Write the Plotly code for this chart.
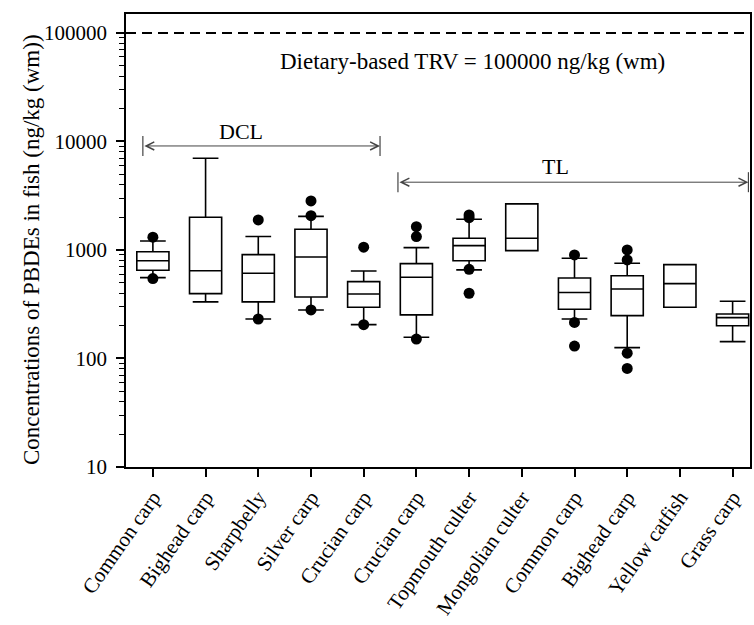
import math
import plotly.graph_objects as go

categories = ["Common carp", "Bighead carp", "Sharpbelly", "Silver carp", "Crucian carp",
              "Crucian carp", "Topmouth culter", "Mongolian culter", "Common carp",
              "Bighead carp", "Yellow catfish", "Grass carp"]
q1 = [650, 396, 332, 369, 296, 252, 796, 986, 284, 248, 296, 200]
median = [796, 644, 610, 861, 393, 560, 1096, 1283, 405, 437, 489, 238]
q3 = [963, 2000, 906, 1550, 511, 748, 1283, 2655, 552, 579, 733, 257]
lower = [556, 332, 231, 280, 205, 157, 655, 986, 231, 126, 296, 143]
upper = [1210, 6990, 1328, 2040, 640, 1050, 1920, 2655, 838, 753, 733, 337]

outlier_idx = [0, 0, 2, 2, 3, 3, 3, 4, 4, 5, 5, 5, 6, 6, 6, 6, 8, 8, 8, 9, 9, 9, 9]
outlier_val = [1310, 545, 1890, 231, 2830, 2070, 280, 1060, 205, 1640, 1328, 151,
               2100, 1985, 663, 399, 900, 215, 130, 1000, 809, 112, 81]

y_tickvals = [10, 100, 1000, 10000, 100000]
y_ticktext = ["10", "100", "1000", "10000", "100000"]

trv_value = 100000
dcl_level = 9080
tl_level = 4210

FONT = "Times New Roman, Liberation Serif, serif"
x = list(range(len(categories)))

fig = go.Figure()
fig.add_trace(go.Box(
    x=x, q1=q1, median=median, q3=q3, lowerfence=lower, upperfence=upper,
    boxpoints=False, width=0.61, whiskerwidth=0.8,
    fillcolor="white", line=dict(color="black", width=1.6),
    showlegend=False, hoverinfo="skip",
))
fig.add_trace(go.Scatter(
    x=outlier_idx, y=outlier_val, mode="markers",
    marker=dict(color="black", size=11), showlegend=False, hoverinfo="skip",
))

shapes = [dict(type="line", xref="paper", x0=0, x1=1, yref="y", y0=trv_value, y1=trv_value,
               line=dict(color="black", width=2, dash="10px,6px"))]
f = 10 ** (10 / 108.5)
for xs, lvl in [(-0.19, dcl_level), (4.31, dcl_level), (4.65, tl_level), (11.30, tl_level)]:
    shapes.append(dict(type="line", xref="x", yref="y", x0=xs, x1=xs, y0=lvl / f, y1=lvl * f,
                       line=dict(color="#444", width=1.2)))

annotations = []
for (xa, xb, lvl) in [(-0.19, 4.31, dcl_level), (4.65, 11.30, tl_level)]:
    ly = math.log10(lvl)
    annotations.append(dict(x=xb, y=ly, ax=xa, ay=ly, xref="x", yref="y", axref="x", ayref="y",
                            text="", showarrow=True, arrowhead=5, startarrowhead=5,
                            arrowside="end+start", arrowsize=1.6, arrowwidth=1,
                            arrowcolor="#444", standoff=0, startstandoff=0))
annotations += [
    dict(x=1.68, y=4.088, xref="x", yref="y", text="DCL", showarrow=False,
         font=dict(family=FONT, size=22, color="black")),
    dict(x=7.63, y=3.768, xref="x", yref="y", text="TL", showarrow=False,
         font=dict(family=FONT, size=22, color="black")),
    dict(x=6.07, y=4.733, xref="x", yref="y", text="Dietary-based TRV = 100000 ng/kg (wm)",
         showarrow=False, font=dict(family=FONT, size=23, color="black")),
    dict(x=0, y=0.5, xref="paper", yref="paper", xshift=-109, yshift=-9, textangle=-90,
         text="Concentrations of PBDEs in fish (ng/kg (wm))", showarrow=False,
         font=dict(family=FONT, size=23, color="black")),
]

fig.update_layout(
    width=754, height=625,
    margin=dict(l=126, r=2, t=14, b=158),
    paper_bgcolor="white", plot_bgcolor="white",
    font=dict(family=FONT, size=21, color="black"),
    shapes=shapes, annotations=annotations,
)
fig.update_xaxes(
    range=[-0.51, 11.33], tickmode="array", tickvals=x, ticktext=categories,
    tickangle=-55, ticks="outside", ticklen=8, tickwidth=1.5, tickcolor="black",
    tickfont=dict(family=FONT, size=21, color="black"),
    showline=True, linecolor="black", linewidth=1.5, mirror=True,
    showgrid=False, zeroline=False,
)
fig.update_yaxes(
    type="log", range=[1, 5.174], tickmode="array", tickvals=y_tickvals, ticktext=y_ticktext,
    ticks="outside", ticklen=8, tickwidth=1.5, tickcolor="black",
    tickfont=dict(family=FONT, size=21, color="black"),
    minor=dict(ticks="outside", ticklen=5, tickwidth=1.2, tickcolor="black", dtick="D1", showgrid=False),
    showline=True, linecolor="black", linewidth=1.5, mirror=True,
    showgrid=False, zeroline=False, ticklabelstandoff=5,
)

fig.write_html("out.html")
